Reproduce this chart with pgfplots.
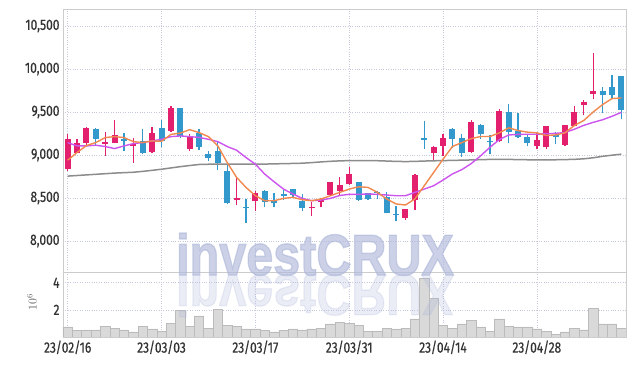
\documentclass[border=0pt]{standalone}
\usepackage{fontspec}
\setmainfont{Fira Sans}[FakeStretch=0.8, FakeBold=0.6]
\newfontfamily\wmfont{Liberation Sans}[FakeBold=2.5]
\usepackage{pgfplots}
\pgfplotsset{compat=1.18}
\usepackage{pgfplotstable}

\definecolor{upc}{HTML}{E2206E}
\definecolor{dnc}{HTML}{3399CC}
\definecolor{maA}{HTML}{F0884F}
\definecolor{maB}{HTML}{CC55EE}
\definecolor{maC}{HTML}{8C8C8C}
\definecolor{gridc}{HTML}{C5C9DE}
\definecolor{framec}{HTML}{CCCCCC}
\definecolor{txt}{HTML}{333333}
\definecolor{volf}{HTML}{D9D9D9}
\definecolor{vold}{HTML}{BBBBBB}
\definecolor{wm}{HTML}{B0B9DA}

\pgfplotstableread{
x o h l c
0 8836 9241 8820 9191
1 9029 9191 9021 9137
2 9145 9330 9114 9315
4 9133 9268 8990 9153
5 9145 9403 9137 9230
7 9106 9203 8913 9126
9 9037 9330 9021 9253
11 9280 9573 9268 9542
13 9068 9241 9048 9222
18 8473 8728 8419 8500
20 8462 8585 8354 8558
26 8381 8458 8296 8396
27 8458 8496 8392 8485
28 8531 8689 8527 8689
29 8577 8740 8527 8655
30 8658 8863 8651 8778
36 8273 8377 8246 8377
37 8477 8778 8361 8770
39 9021 9106 8933 9095
40 9106 9249 8990 9195
43 9037 9403 9029 9384
46 9160 9539 9148 9508
50 9109 9258 9070 9180
51 9090 9340 9070 9332
53 9117 9352 9109 9344
54 9340 9570 9340 9496
55 9578 9637 9461 9613
56 9711 10184 9648 9742
}\uptab

\pgfplotstableread{
x o h l c
3 9303 9311 9118 9191
6 9187 9261 9052 9168
8 9160 9303 9010 9029
10 9311 9407 9099 9164
12 9542 9542 9203 9218
14 9261 9299 9060 9095
15 9014 9048 8933 8960
16 9048 9150 8828 8906
17 8817 8894 8431 8439
19 8396 8489 8211 8385
21 8581 8593 8396 8458
22 8469 8554 8392 8439
23 8550 8597 8481 8527
24 8601 8601 8508 8531
25 8465 8547 8354 8388
31 8685 8685 8465 8477
32 8558 8558 8477 8485
33 8574 8577 8489 8554
34 8508 8566 8323 8323
35 8319 8404 8230 8307
38 9195 9392 9075 9172
41 9303 9320 9087 9191
42 9195 9249 8979 9021
44 9352 9360 9190 9242
45 9160 9234 9012 9148
47 9496 9594 9141 9266
48 9285 9488 9199 9207
49 9215 9242 9102 9137
52 9238 9273 9125 9207
57 9742 9789 9488 9695
58 9789 9926 9656 9695
59 9918 9918 9414 9527
}\dntab

\pgfplotstableread{
x a b g v
0 8940 9145 8755 0.74
1 9030 9106 8762 0.47
2 9110 9106 8769 0.52
3 9145 9114 8776 0.52
4 9203 9099 8783 0.81
5 9214 9075 8790 0.66
6 9203 9106 8795 0.52
7 9156 9133 8800 0.37
8 9145 9145 8810 0.81
9 9164 9164 8822 0.59
10 9160 9183 8835 0.44
11 9240 9214 8850 1.03
12 9255 9222 8865 1.94
13 9295 9214 8878 0.81
14 9261 9205 8890 1.55
15 9214 9183 8893 0.66
16 9106 9156 8895 2.01
17 8913 9099 8895 0.88
18 8740 9056 8894 0.81
19 8624 8971 8893 0.59
20 8527 8894 8893 0.59
21 8469 8778 8895 0.47
22 8469 8689 8897 0.37
23 8496 8604 8900 0.47
24 8508 8547 8902 0.59
25 8481 8496 8905 0.52
26 8469 8469 8912 0.59
27 8489 8477 8920 0.66
28 8527 8496 8927 0.96
29 8566 8530 8932 1.10
30 8604 8543 8935 0.98
31 8631 8543 8936 0.88
32 8624 8547 8935 0.44
33 8566 8543 8934 0.44
34 8489 8535 8930 0.66
35 8431 8527 8926 0.59
36 8419 8527 8924 0.66
37 8489 8566 8926 1.33
38 8643 8604 8930 4.34
39 8797 8643 8933 2.87
40 8952 8709 8935 0.83
41 9099 8780 8938 0.66
42 9145 8830 8940 0.96
43 9191 8900 8943 1.25
44 9215 8990 8946 0.74
45 9215 9090 8949 0.44
46 9258 9180 8950 1.33
47 9316 9233 8949 0.81
48 9285 9240 8947 0.74
49 9266 9242 8945 0.74
50 9258 9242 8944 0.59
51 9227 9248 8944 0.44
52 9234 9252 8945 0.22
53 9258 9262 8947 0.37
54 9344 9300 8950 0.66
55 9402 9345 8956 0.52
56 9500 9380 8968 2.13
57 9586 9410 8985 0.96
58 9656 9450 8998 0.96
59 9664 9496 9010 0.66
}\linetab

\pgfplotsset{
  panel/.style={
    scale only axis, width=563bp, xmin=-0.5, xmax=59.5,
    axis line style={framec, line width=0.8bp},
    grid=major, grid style={gridc, dotted, line width=0.7bp},
    major tick length=0pt,
    xtick={0,10,20,30,40,50},
    tick label style={font=\fontsize{15}{15}\selectfont, text=txt},
    /pgf/number format/assume math mode=true,
    scaled y ticks=false,
  },
  candle/.style={only marks, mark=*, mark size=0pt,
    mark options={draw=none, fill=none},
    error bars/.cd, y dir=plus, y explicit, error mark=none,
    error bar style={#1}},
}

\begin{document}
\begin{tikzpicture}
\path[use as bounding box] (0,0) rectangle (635bp,366bp);

\begin{axis}[panel, at={(63bp,94bp)}, anchor=south west, height=263bp,
  ymin=7640, ymax=10698, ytick={8000,8500,9000,9500,10000,10500},
  xticklabels={},
  yticklabel style={/pgf/number format/.cd, 1000 sep={,}, fixed}]
% wicks
\addplot[candle={upc, line width=1.3bp}]
  table[x=x, y=l, y error plus expr=\thisrow{h}-\thisrow{l}] {\uptab};
\addplot[candle={dnc, line width=1.3bp}]
  table[x=x, y=l, y error plus expr=\thisrow{h}-\thisrow{l}] {\dntab};
% bodies
\addplot[candle={upc, line width=6bp}]
  table[x=x, y=o, y error plus expr=\thisrow{c}-\thisrow{o}] {\uptab};
\addplot[candle={dnc, line width=6bp}]
  table[x=x, y=c, y error plus expr=\thisrow{o}-\thisrow{c}] {\dntab};
% moving averages
\addplot[maC, line width=1.5bp, mark=none] table[x=x, y=g] {\linetab};
\addplot[maB, line width=1.4bp, mark=none] table[x=x, y=b] {\linetab};
\addplot[maA, line width=1.4bp, mark=none] table[x=x, y=a] {\linetab};
\end{axis}

\begin{axis}[panel, at={(63bp,29bp)}, anchor=south west, height=65bp,
  ymin=0, ymax=4.79, ytick={2,4},
  xticklabels={23/02/16,23/03/03,23/03/17,23/03/31,23/04/14,23/04/28}]
\addplot[ybar, bar width=1, bar shift=0pt, fill=volf, draw=vold, line width=0.6bp]
  table[x=x, y=v] {\linetab};
\end{axis}

\node[rotate=90, text=txt!80, font=\fontsize{12}{12}\selectfont] at (32bp,64bp) {$10^{6}$};

\node[anchor=base, xscale=0.84, text=wm, opacity=0.65,
  font=\wmfont\bfseries\fontsize{58}{58}\selectfont] at (315bp,91bp) {investCRUX};
\begin{scope}
\clip (63bp,29bp) rectangle (626bp,94bp);
\node[anchor=base, xscale=0.84, yscale=-1, text=wm, opacity=0.25,
  font=\wmfont\bfseries\fontsize{58}{58}\selectfont] at (315bp,91bp) {investCRUX};
\end{scope}
\end{tikzpicture}
\end{document}
